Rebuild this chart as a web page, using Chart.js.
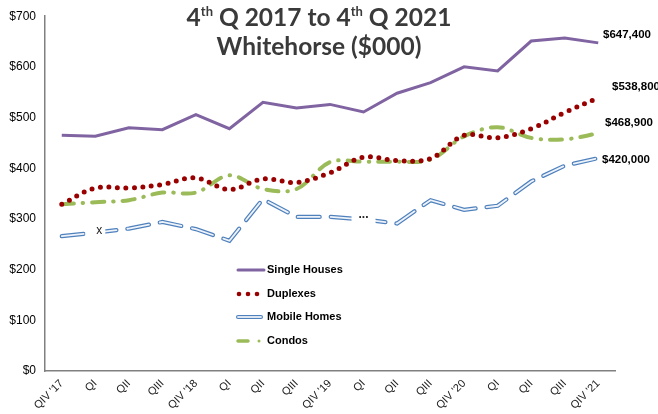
<!DOCTYPE html>
<html>
<head>
<meta charset="utf-8">
<script src="https://cdn.jsdelivr.net/npm/chart.js@4"></script>
<style>
  html, body { margin: 0; padding: 0; background: #fff; }
  #wrap { width: 658px; height: 414px; position: relative; }
</style>
</head>
<body>
<div id="wrap"><canvas id="priceChart"></canvas></div>
<script>
// quarters, 4th Q 2017 .. 4th Q 2021
const quarters = ["QIV '17", 'QI', 'QII', 'QIII', "QIV '18", 'QI', 'QII', 'QIII', "QIV '19",
                  'QI', 'QII', 'QIII', "QIV '20", 'QI', 'QII', 'QIII', "QIV '21"];

// average prices ($000)
const singleHouses = [465, 463, 480, 476, 506, 478, 530, 519, 526, 511, 548, 569, 600, 592, 651, 657, 647.4];
const duplexes     = [329, 361, 361, 368, 381, 358, 379, 372, 391, 422, 415, 419, 465, 460, 478, 510, 538.8];
const mobileHomes  = [266, 273, 281, 294, 280, 257, 339, 304, 304, 299, 291, 337, 318, 326, 374, 405, 420];
const condos       = [329, 333, 337, 352, 352, 386, 359, 359, 412, 413, 413, 417, 463, 481, 460, 457, 468.9];

const seriesNames = ['Single Houses', 'Duplexes', 'Mobile Homes', 'Condos'];
const endLabels   = ['$647,400', '$538,800', '$420,000', '$468,900'];
const yTicks      = [0, 100, 200, 300, 400, 500, 600, 700];

const PURPLE = '#8064a2';
const RED    = '#990000';
const BLUE   = '#4f81bd';
const GREEN  = '#9bbb59';

// title, end labels, legend and the two stray marks from the original slide
const overlay = {
  id: 'overlay',
  afterDraw(chart) {
    const { ctx, scales: { x, y } } = chart;
    ctx.save();

    // title
    ctx.fillStyle = '#3a3a3a';
    ctx.textBaseline = 'alphabetic';
    const big = 'bold 24.5px Lato', sup = 'bold 13px Lato';
    const parts = [['4', big, 0], ['th', sup, -10], [' Q 2017 to 4', big, 0], ['th', sup, -10], [' Q 2021', big, 0]];
    let w = 0;
    parts.forEach(p => { ctx.font = p[1]; w += ctx.measureText(p[0]).width; });
    let tx = 319 - w / 2;
    parts.forEach(p => {
      ctx.font = p[1];
      ctx.fillText(p[0], tx, 26 + p[2]);
      tx += ctx.measureText(p[0]).width;
    });
    ctx.font = big;
    ctx.textAlign = 'center';
    ctx.fillText('Whitehorse ($000)', 319, 55);

    // value labels at line ends
    ctx.textAlign = 'left';
    ctx.textBaseline = 'middle';
    ctx.fillStyle = '#000';
    ctx.font = 'bold 11.5px Arial';
    const endY = [35, 87, 160, 123];
    const endX = [603, 612, 602, 605];
    endLabels.forEach((t, i) => ctx.fillText(t, endX[i], endY[i]));

    // legend
    const ly = [270, 294, 317, 341];
    ctx.font = 'bold 11px Arial';
    seriesNames.forEach((name, i) => {
      const yy = ly[i];
      ctx.lineCap = 'round';
      ctx.setLineDash([]);
      if (i === 0) {
        ctx.strokeStyle = PURPLE; ctx.lineWidth = 3;
        ctx.beginPath(); ctx.moveTo(238, yy); ctx.lineTo(264, yy); ctx.stroke();
      } else if (i === 1) {
        ctx.fillStyle = RED;
        [239, 248, 257].forEach(cx => { ctx.beginPath(); ctx.arc(cx, yy, 2.3, 0, Math.PI * 2); ctx.fill(); });
      } else if (i === 2) {
        ctx.strokeStyle = BLUE; ctx.lineWidth = 4;
        ctx.beginPath(); ctx.moveTo(238, yy); ctx.lineTo(261, yy); ctx.stroke();
        ctx.strokeStyle = '#dce6f2'; ctx.lineWidth = 1.8;
        ctx.beginPath(); ctx.moveTo(238, yy); ctx.lineTo(261, yy); ctx.stroke();
      } else {
        ctx.strokeStyle = GREEN; ctx.lineWidth = 3.5;
        ctx.beginPath(); ctx.moveTo(238, yy); ctx.lineTo(248, yy); ctx.stroke();
        ctx.fillStyle = GREEN;
        ctx.beginPath(); ctx.arc(259, yy, 1.5, 0, Math.PI * 2); ctx.fill();
      }
      ctx.fillStyle = '#000';
      ctx.fillText(name, 267, yy);
    });

    // stray marks
    ctx.fillStyle = '#fff';
    ctx.fillRect(x.getPixelForValue(1) - 10, y.getPixelForValue(273) - 6, 20, 12);
    ctx.fillRect(x.getPixelForValue(9) - 12, y.getPixelForValue(299) - 6, 24, 12);
    ctx.fillStyle = '#222';
    ctx.font = '12px Arial';
    ctx.textAlign = 'center';
    ctx.fillText('x', x.getPixelForValue(1) + 4, y.getPixelForValue(273) - 2);
    ctx.font = 'bold 12px Arial';
    ctx.fillText('...', x.getPixelForValue(9), y.getPixelForValue(299) - 5);
    ctx.restore();
  }
};

new Chart(document.getElementById('priceChart'), {
  type: 'line',
  data: {
    labels: quarters,
    datasets: [
      { label: seriesNames[0], data: singleHouses, borderColor: PURPLE, borderWidth: 3,
        pointRadius: 0, tension: 0, order: 1 },
      { label: seriesNames[1], data: duplexes, borderColor: RED, borderWidth: 5,
        borderDash: [0, 8.5], borderCapStyle: 'round', pointRadius: 0, tension: 0.35, order: 1 },
      { label: seriesNames[2], data: mobileHomes, borderColor: BLUE, borderWidth: 4.2,
        borderDash: [22, 11], borderCapStyle: 'round', pointRadius: 0, tension: 0, order: 2 },
      { label: seriesNames[2] + ' inner', data: mobileHomes, borderColor: '#eef3fa', borderWidth: 1.8,
        borderDash: [22, 11], borderCapStyle: 'round', pointRadius: 0, tension: 0, order: 1 },
      { label: seriesNames[3], data: condos, borderColor: GREEN, borderWidth: 4,
        borderDash: [12, 9, 0.5, 9], borderCapStyle: 'round', pointRadius: 0, tension: 0.35, order: 1 },
    ],
  },
  options: {
    responsive: true,
    maintainAspectRatio: false,
    animation: false,
    layout: { padding: { top: 12, right: 43, left: 0, bottom: 0 } },
    plugins: {
      legend: { display: false },
      tooltip: { enabled: false },
    },
    scales: {
      x: {
        offset: true,
        grid: { display: false, drawTicks: false },
        border: { color: '#808080', width: 1.5 },
        ticks: { color: '#222', font: { family: 'Arial', size: 11 }, maxRotation: 45, minRotation: 45,
                 autoSkip: false, padding: 6 },
        afterFit(s) { s.height = 43; },
      },
      y: {
        min: 0, max: 700,
        afterBuildTicks(s) { s.ticks = yTicks.map(v => ({ value: v })); },
        grid: { display: false, drawTicks: false },
        border: { color: '#808080', width: 1.5 },
        ticks: { color: '#000', font: { family: 'Arial', size: 12 }, padding: 9,
                 callback: v => '$' + v },
        afterFit(s) { s.width = 45; },
      },
    },
  },
  plugins: [overlay],
});
</script>
</body>
</html>
